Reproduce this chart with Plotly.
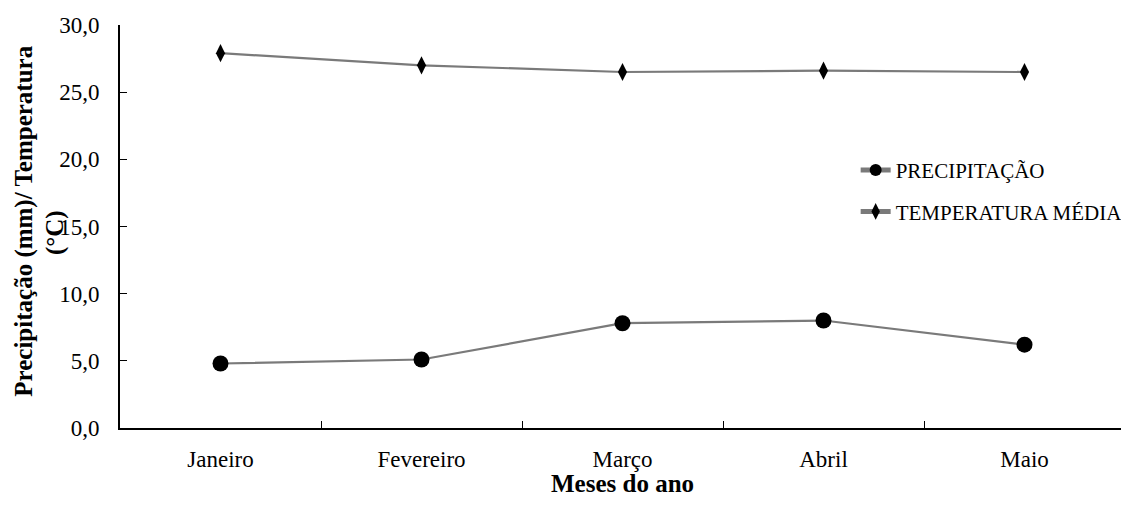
import plotly.graph_objects as go

months = ["Janeiro", "Fevereiro", "Março", "Abril", "Maio"]
precipitacao = [4.8, 5.1, 7.8, 8.0, 6.2]
temperatura = [27.9, 27.0, 26.5, 26.6, 26.5]
y_ticks = [0, 5, 10, 15, 20, 25, 30]
y_title_lines = ["<b>Precipitação (mm)/ Temperatura</b>", "<b>(°C)</b>"]
x_title = "<b>Meses do ano</b>"

FONT = "Liberation Serif"
LINE = "#7a7a7a"

fig = go.Figure()
fig.add_trace(go.Scatter(
    x=months, y=precipitacao, name="PRECIPITAÇÃO", mode="lines+markers",
    legendgroup="p",
    line=dict(color=LINE, width=2.2),
    marker=dict(symbol="circle", size=16, color="black"),
))
fig.add_trace(go.Scatter(
    x=months, y=temperatura, name="TEMPERATURA MÉDIA", mode="lines+markers",
    legendgroup="t",
    line=dict(color=LINE, width=2.2),
    marker=dict(symbol="diamond-tall", size=13, color="black"),
))

# y-axis title drawn as two rotated lines (placed as in the reference)
for xpos, ypos, txt in zip([-0.0955, -0.0647], [0.512, 0.486], y_title_lines):
    fig.add_annotation(
        text=txt, xref="paper", yref="paper", x=xpos, y=ypos,
        xanchor="center", yanchor="middle", textangle=-90, showarrow=False,
        font=dict(size=25, family=FONT, color="black"),
    )

# x-axis title
fig.add_annotation(
    text=x_title, xref="paper", yref="paper", x=0.5, y=-0.1365,
    xanchor="center", yanchor="middle", showarrow=False,
    font=dict(size=25, family=FONT, color="black"),
)

fig.update_layout(
    width=1160, height=510,
    margin=dict(l=112, r=43, t=17, b=90),
    paper_bgcolor="white", plot_bgcolor="white",
    separators=",.",
    font=dict(family=FONT, size=23, color="black"),
    showlegend=True,
    legend=dict(x=0.732, y=0.69, xanchor="left", yanchor="top",
                bgcolor="rgba(0,0,0,0)", font=dict(size=21, family=FONT),
                itemwidth=30, itemsizing="constant", tracegroupgap=11),
    xaxis=dict(
        type="category", tickson="boundaries", ticks="inside", ticklen=7,
        tickcolor="black", showline=True, linecolor="black", linewidth=2,
        showgrid=False, zeroline=False, range=[-0.5, 4.5], automargin=False,
        tickfont=dict(size=23, family=FONT), ticklabelstandoff=9,
    ),
    yaxis=dict(
        range=[0, 30], tickvals=y_ticks, tickformat=".1f", ticks="inside", ticklen=7,
        tickcolor="black", showline=True, linecolor="black", linewidth=2,
        showgrid=False, zeroline=False, automargin=False,
        tickfont=dict(size=23, family=FONT), ticklabelstandoff=14,
    ),
)

fig.write_html("out.html")
